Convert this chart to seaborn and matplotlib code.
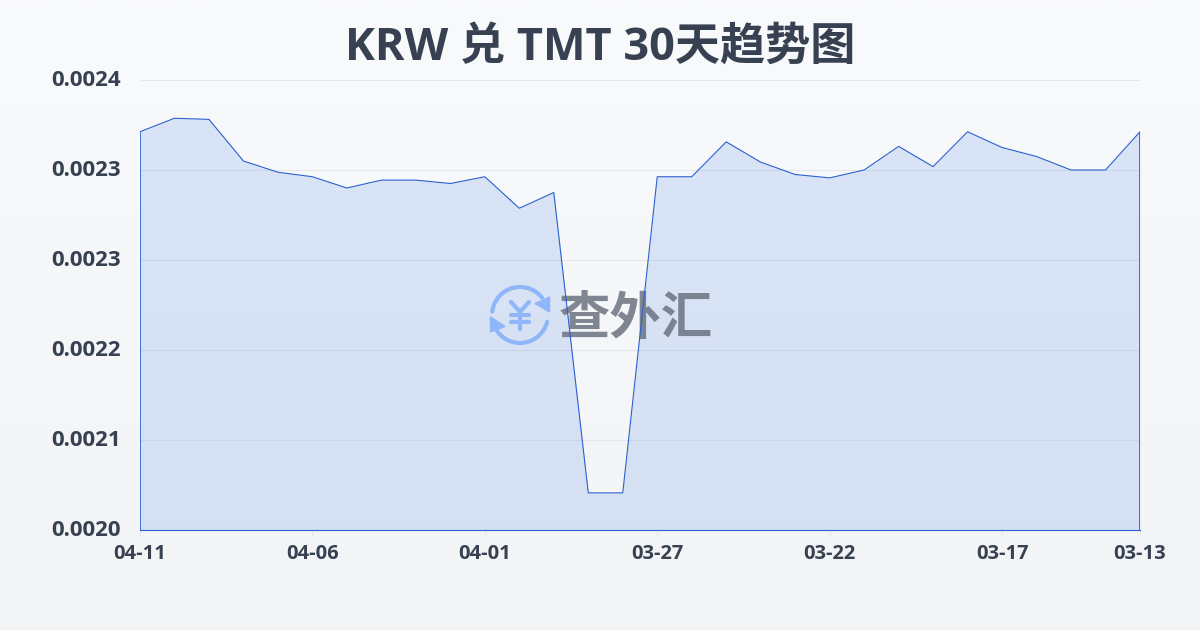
import numpy as np
import pandas as pd
import seaborn as sns
import matplotlib
matplotlib.use('Agg')
import matplotlib.pyplot as plt
import matplotlib.patheffects as pe
from matplotlib.patches import Arc, Polygon
from matplotlib.transforms import Affine2D, ScaledTranslation

# Data, newest first
dates = ['04-11', '04-10', '04-09', '04-08', '04-07', '04-06', '04-05', '04-04', '04-03', '04-02',
         '04-01', '03-31', '03-30', '03-29', '03-28', '03-27', '03-26', '03-25', '03-24', '03-23',
         '03-22', '03-21', '03-20', '03-19', '03-18', '03-17', '03-16', '03-15', '03-14', '03-13']
rates = [0.002354, 0.002366, 0.002365, 0.002328, 0.002318, 0.002314, 0.002304, 0.002311, 0.002311, 0.002308,
         0.002314, 0.002286, 0.002300, 0.002033, 0.002033, 0.002314, 0.002314, 0.002345, 0.002327, 0.002316,
         0.002313, 0.002320, 0.002341, 0.002323, 0.002354, 0.002340, 0.002332, 0.002320, 0.002320, 0.002354]
y_ticks = [0.0020, 0.00208, 0.00216, 0.00224, 0.00232, 0.0024]
y_labels = ['0.0020', '0.0021', '0.0022', '0.0023', '0.0023', '0.0024']
title = 'KRW 兑 TMT 30天趋势图'
watermark = '查外汇'

sns.set_theme(style='white')
plt.rcParams['font.family'] = ['Open Sans', 'Noto Sans CJK SC', 'DejaVu Sans']

BLUE = '#2a60cf'
TEXT = '#374151'
GRID = '#e5e7eb'
LOGO = '#8fb6f8'

df = pd.DataFrame({'day': np.arange(len(dates)), 'date': dates, 'rate': rates})

fig = plt.figure(figsize=(12, 6.3), dpi=100)

# Page background gradient
bg = fig.add_axes([0, 0, 1, 1], zorder=0)
bg.imshow(np.linspace(0, 1, 256).reshape(-1, 1), aspect='auto', extent=[0, 1, 0, 1],
          cmap=matplotlib.colors.LinearSegmentedColormap.from_list('page', ['#f9fafc', '#f3f4f6']))
bg.axis('off')

# Main chart
ax = fig.add_axes([140 / 1200, 1 - 530 / 630, 1000 / 1200, 450 / 630], zorder=1)
ax.patch.set_alpha(0)
ax.fill_between(df['day'], df['rate'], 0.0020, color='#2f6be0', alpha=0.15, linewidth=0, zorder=2)
sns.lineplot(data=df, x='day', y='rate', ax=ax, color=BLUE, linewidth=0.8, zorder=4)
# Area outline only runs up to the line at both ends
ax.vlines([df['day'].iloc[0], df['day'].iloc[-1]], 0.0020, [rates[0], rates[-1]], color=BLUE,
          linewidth=1.2, zorder=4)

ax.set_xlim(0, len(dates) - 1)
ax.set_ylim(0.0020, 0.0024)
ax.set_xlabel('')
ax.set_ylabel('')
ax.set_xticks(df['day'][::5].tolist() + [len(dates) - 1])
ax.set_xticklabels(df['date'][::5].tolist() + [dates[-1]], fontsize=14.5, fontweight='bold', color=TEXT)
ax.set_yticks(y_ticks)
ax.set_yticklabels(y_labels, fontsize=16, fontweight='bold', color=TEXT)
ax.tick_params(axis='x', length=5, width=0.8, color=GRID, pad=5, bottom=True)
ax.tick_params(axis='y', length=0, pad=14)
ax.grid(axis='y', color=GRID, linewidth=0.8)
ax.set_axisbelow(True)
# y labels sit a touch above their grid lines in the original
shift = ScaledTranslation(0, 1.5 / 100, fig.dpi_scale_trans)
for lab in ax.get_yticklabels():
    lab.set_transform(lab.get_transform() + shift)
for side in ['top', 'left', 'right']:
    ax.spines[side].set_visible(False)
ax.spines['bottom'].set_color(BLUE)
ax.spines['bottom'].set_linewidth(0.8)
ax.spines['bottom'].set_zorder(5)

# Watermark, placed in pixels so the line stays on top of it
px = Affine2D().scale(1 / 1200, -1 / 630).translate(0, 1) + fig.transFigure
ax.text(636, 318.5, watermark, transform=px, ha='center', va='center', fontsize=37, fontweight='bold',
        color='#6b7280', alpha=0.85, zorder=3, clip_on=False, family=['Noto Sans CJK SC', 'DejaVu Sans'])
for t1, t2 in [(187, 322), (14, 160)]:
    ax.add_patch(Arc((520, 315), 56, 56, theta1=t1, theta2=t2, transform=px, color=LOGO, lw=3,
                     capstyle='round', zorder=3, clip_on=False))
ax.add_patch(Polygon([(549.5, 297), (549.5, 312), (535, 303.5)], transform=px, color=LOGO, zorder=3, clip_on=False))
ax.add_patch(Polygon([(490.5, 317), (490.5, 332), (505, 326.5)], transform=px, color=LOGO, zorder=3, clip_on=False))
for xs, ys in [([511, 520, 529], [302, 312, 302]), ([511, 529], [315, 315]),
               ([511, 529], [322, 322]), ([520, 520], [312, 329])]:
    ax.plot(xs, ys, transform=px, color=LOGO, lw=3, solid_capstyle='round', zorder=3, clip_on=False)

fig.text(0.5, 1 - 48 / 630, title, ha='center', va='center', fontsize=32.5, fontweight='bold', color=TEXT)

fig.savefig('out.png', dpi=100)
